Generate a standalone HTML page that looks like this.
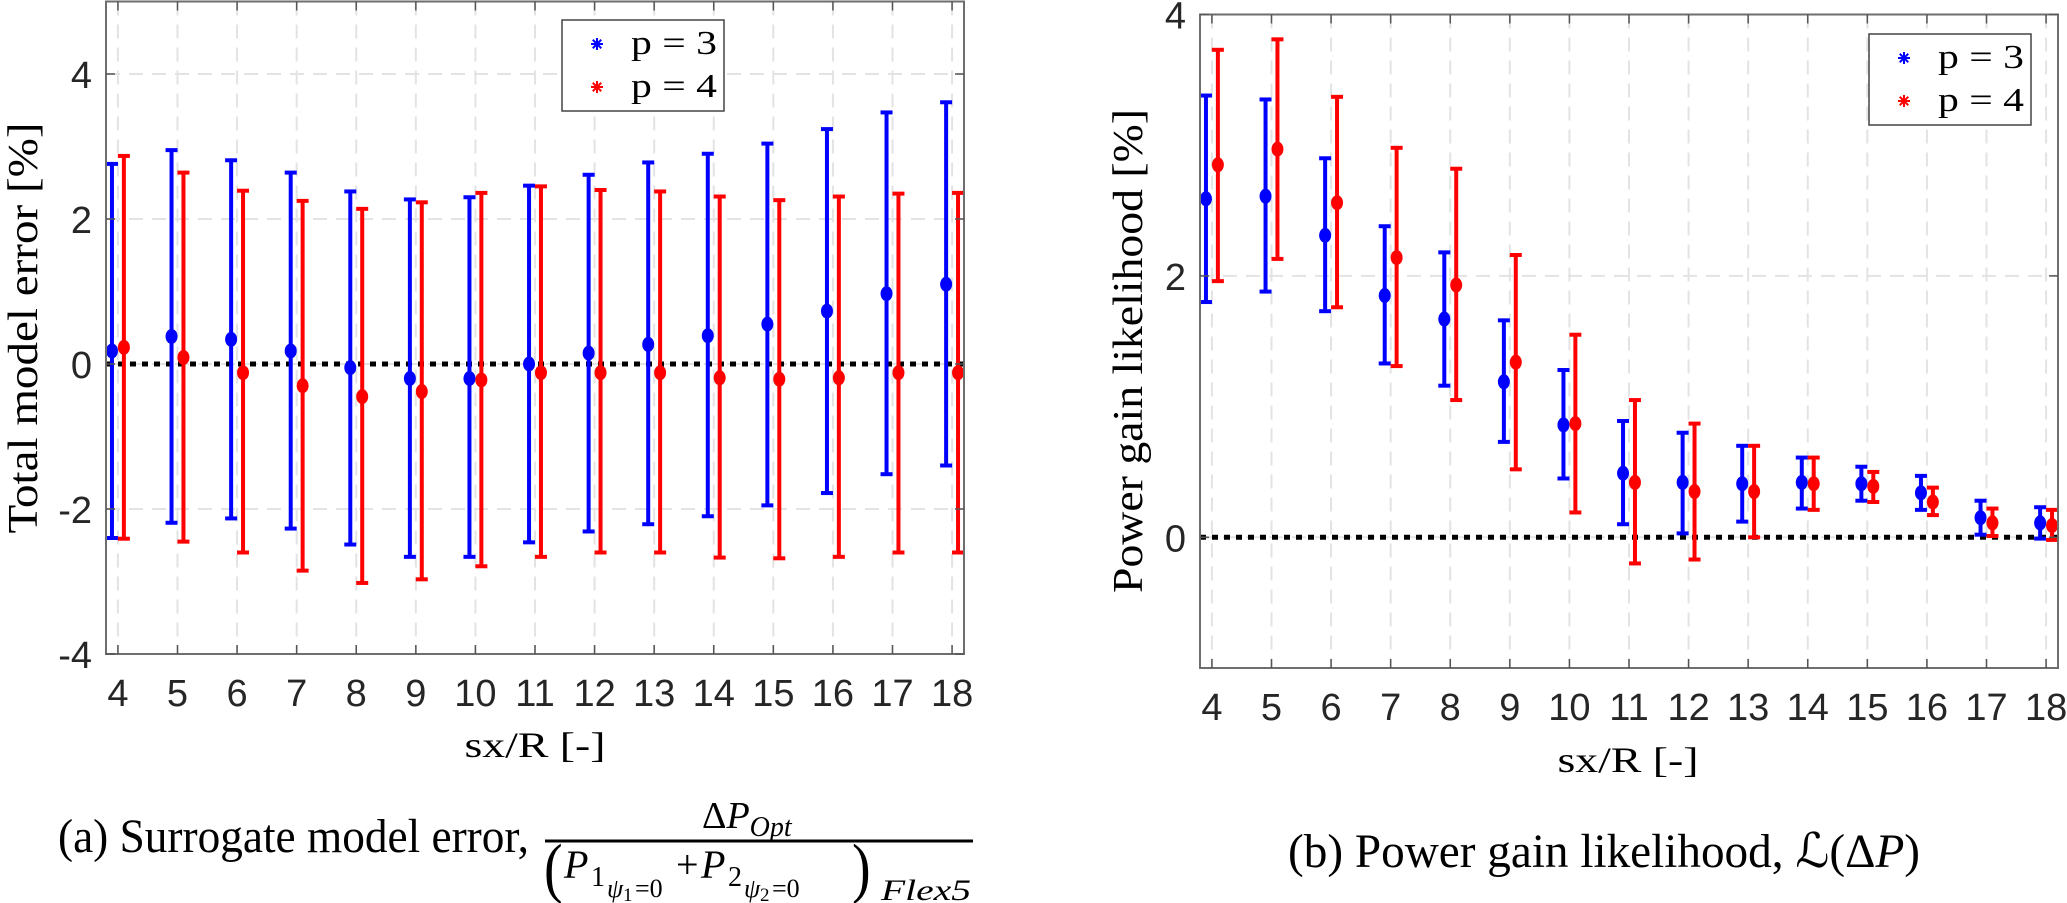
<!DOCTYPE html>
<html><head><meta charset="utf-8"><style>
html,body{margin:0;padding:0;background:#fff;}
svg{display:block;}
.tick{font-family:"Liberation Sans",sans-serif;font-size:38px;fill:#262626;}
.ser{font-family:"Liberation Serif",serif;fill:#000;}
</style></head><body>
<svg id="fig" width="2067" height="903" viewBox="0 0 2067 903" xmlns="http://www.w3.org/2000/svg">
<g id="chartA"></g>
<g id="chartB"></g>
<text class="ser" x="58" y="852" font-size="48" textLength="471" lengthAdjust="spacingAndGlyphs">(a) Surrogate model error,</text>
<g class="ser">
<text x="702" y="828" font-size="38">Δ<tspan font-style="italic">P</tspan><tspan font-style="italic" font-size="28" dy="8">Opt</tspan></text>
<line x1="545" y1="841" x2="973" y2="841" stroke="#000" stroke-width="3"/>
<text x="544" y="890" font-size="56" transform="translate(544 890) scale(1 1.2) translate(-544 -890)">(</text>
<text x="564" y="878" font-size="40" font-style="italic">P</text>
<text x="591" y="886" font-size="28">1</text>
<text x="607" y="897" font-size="26" font-style="italic">ψ</text>
<text x="623" y="901" font-size="19">1</text>
<text x="635" y="897" font-size="26">=0</text>
<text x="676" y="878" font-size="40">+</text>
<text x="701" y="878" font-size="40" font-style="italic">P</text>
<text x="728" y="886" font-size="28">2</text>
<text x="744" y="897" font-size="26" font-style="italic">ψ</text>
<text x="760" y="901" font-size="19">2</text>
<text x="772" y="897" font-size="26">=0</text>
<text x="852" y="890" font-size="56" transform="translate(852 890) scale(1 1.2) translate(-852 -890)">)</text>
<text x="881" y="900" font-size="30" font-style="italic" textLength="90" lengthAdjust="spacingAndGlyphs">Flex5</text>
</g>
<text class="ser" x="1288" y="867" font-size="48" textLength="632" lengthAdjust="spacingAndGlyphs">(b) Power gain likelihood, ℒ(Δ<tspan font-style="italic">P</tspan>)</text>
</svg>
<script>
const categories = [4,5,6,7,8,9,10,11,12,13,14,15,16,17,18];
// Chart A: total model error
const aBlueMean = [0.18,0.38,0.34,0.18,-0.05,-0.20,-0.20,0.0,0.15,0.27,0.39,0.55,0.73,0.97,1.10];
const aBlueHi   = [2.76,2.95,2.81,2.64,2.38,2.27,2.30,2.46,2.61,2.78,2.90,3.04,3.24,3.47,3.61];
const aBlueLo   = [-2.40,-2.19,-2.13,-2.27,-2.49,-2.66,-2.66,-2.46,-2.31,-2.21,-2.10,-1.95,-1.78,-1.52,-1.40];
const aRedMean  = [0.23,0.09,-0.12,-0.30,-0.45,-0.38,-0.22,-0.12,-0.12,-0.12,-0.19,-0.21,-0.19,-0.12,-0.12];
const aRedHi    = [2.87,2.64,2.39,2.25,2.14,2.23,2.36,2.45,2.40,2.38,2.31,2.26,2.31,2.35,2.36];
const aRedLo    = [-2.41,-2.45,-2.60,-2.85,-3.02,-2.97,-2.79,-2.66,-2.60,-2.60,-2.67,-2.68,-2.66,-2.60,-2.60];
const aYTicks = [-4,-2,0,2,4];
// Chart B: power gain likelihood
const bBlueMean = [2.59,2.61,2.31,1.85,1.67,1.19,0.86,0.49,0.42,0.41,0.42,0.41,0.34,0.15,0.11];
const bBlueHi   = [3.38,3.35,2.90,2.38,2.18,1.66,1.28,0.89,0.80,0.70,0.61,0.54,0.47,0.28,0.23];
const bBlueLo   = [1.80,1.88,1.73,1.33,1.16,0.73,0.45,0.10,0.03,0.12,0.22,0.28,0.21,0.02,-0.01];
const bRedMean  = [2.85,2.97,2.56,2.14,1.93,1.34,0.87,0.42,0.35,0.35,0.41,0.39,0.27,0.11,0.09];
const bRedHi    = [3.73,3.81,3.37,2.98,2.82,2.16,1.55,1.05,0.87,0.70,0.61,0.50,0.38,0.22,0.21];
const bRedLo    = [1.96,2.13,1.76,1.31,1.05,0.52,0.19,-0.20,-0.17,0.0,0.21,0.27,0.17,0.01,-0.02];
const bYTicks = [0,2,4];
const legendLabels = ["p = 3","p = 4"];

const NS="http://www.w3.org/2000/svg";
function mk(parent,tag,attrs,text){const e=document.createElementNS(NS,tag);for(const k in attrs)e.setAttribute(k,attrs[k]);if(text!==undefined)e.textContent=text;parent.appendChild(e);return e;}

function drawChart(g,cfg){
  const xs=v=>cfg.L+(v-3.8)/(14.4)*(cfg.R-cfg.L);
  const ys=v=>cfg.B-(v-cfg.ymin)/(cfg.ymax-cfg.ymin)*(cfg.B-cfg.T);
  categories.forEach(c=>{
    const l=mk(g,'line',{x1:xs(c),x2:xs(c),y1:cfg.T,y2:cfg.B,stroke:'#e3e3e3','stroke-width':2,'stroke-dasharray':'14 9'});
    
    
  });
  cfg.yticks.forEach(t=>{
    const l=mk(g,'line',{x1:cfg.L,x2:cfg.R,y1:ys(t),y2:ys(t),stroke:'#e3e3e3','stroke-width':2,'stroke-dasharray':'14 9'});
    
    
  });
  const z=mk(g,'line',{x1:cfg.L,x2:cfg.R,y1:ys(0),y2:ys(0),stroke:'#000','stroke-width':5,'stroke-dasharray':'6 6'});
  
  
  const series=[{m:cfg.bm,h:cfg.bh,l:cfg.bl,c:'#0000ff',off:-0.1,n:'p3'},{m:cfg.rm,h:cfg.rh,l:cfg.rl,c:'#ff0000',off:0.1,n:'p4'}];
  series.forEach(s=>{
    categories.forEach((c,i)=>{
      const x=xs(c+s.off);
      const eg=mk(g,'g',{});
      
      
      mk(eg,'line',{x1:x,x2:x,y1:ys(s.h[i]),y2:ys(s.l[i]),stroke:s.c,'stroke-width':4});
      mk(eg,'line',{x1:x-6,x2:x+6,y1:ys(s.h[i]),y2:ys(s.h[i]),stroke:s.c,'stroke-width':4});
      mk(eg,'line',{x1:x-6,x2:x+6,y1:ys(s.l[i]),y2:ys(s.l[i]),stroke:s.c,'stroke-width':4});
      const p=mk(eg,'ellipse',{cx:x,cy:ys(s.m[i]),rx:6,ry:7.5,fill:s.c});
      
      
    });
  });
  const box=mk(g,'rect',{x:cfg.L,y:cfg.T,width:cfg.R-cfg.L,height:cfg.B-cfg.T,fill:'none',stroke:'#6e6e6e','stroke-width':2});
  
  
  categories.forEach(c=>{
    mk(g,'line',{x1:xs(c),x2:xs(c),y1:cfg.B,y2:cfg.B-9,stroke:'#555','stroke-width':1.5});
    mk(g,'line',{x1:xs(c),x2:xs(c),y1:cfg.T,y2:cfg.T+9,stroke:'#555','stroke-width':1.5});
    const t=mk(g,'text',{x:xs(c),y:cfg.B+52,'text-anchor':'middle',class:'tick'},String(c));
    
    
  });
  cfg.yticks.forEach(v=>{
    mk(g,'line',{x1:cfg.L,x2:cfg.L+9,y1:ys(v),y2:ys(v),stroke:'#555','stroke-width':1.5});
    mk(g,'line',{x1:cfg.R,x2:cfg.R-9,y1:ys(v),y2:ys(v),stroke:'#555','stroke-width':1.5});
    const t=mk(g,'text',{x:cfg.L-14,y:ys(v)+14,'text-anchor':'end',class:'tick'},String(v));
    
    
  });
  const xl=mk(g,'text',{x:cfg.xlx,y:cfg.xly,'text-anchor':'middle',class:'ser','font-size':36,fill:'#262626',textLength:141,lengthAdjust:'spacingAndGlyphs'},'sx/R [-]');
  
  
  const yl=mk(g,'text',{x:0,y:0,'text-anchor':'middle',class:'ser','font-size':42,fill:'#262626',textLength:cfg.ylen,lengthAdjust:'spacingAndGlyphs',transform:`translate(${cfg.ylx},${cfg.yly}) rotate(-90)`},cfg.ytitle);
  
  
  const lg=mk(g,'g',{});
  
  
  mk(lg,'rect',{x:cfg.lgx,y:cfg.lgy,width:162,height:91,fill:'#fff',stroke:'#444','stroke-width':1.5});
  ['#0000ff','#ff0000'].forEach((c,i)=>{
    const e=mk(lg,'g',{});
    
    
    const mx=cfg.lgx+35,my=cfg.lgy+24+i*43;
    for(let a=0;a<4;a++){const an=a*Math.PI/4;mk(e,'line',{x1:mx-6*Math.cos(an),y1:my-6*Math.sin(an),x2:mx+6*Math.cos(an),y2:my+6*Math.sin(an),stroke:c,'stroke-width':2});}
    mk(e,'text',{x:cfg.lgx+69,y:my+10,class:'ser','font-size':34,textLength:86,lengthAdjust:'spacingAndGlyphs'},legendLabels[i]);
  });
}
drawChart(document.getElementById('chartA'),{L:106,R:964,T:1.5,B:654,ymin:-4,ymax:5,yticks:aYTicks,
  bm:aBlueMean,bh:aBlueHi,bl:aBlueLo,rm:aRedMean,rh:aRedHi,rl:aRedLo,
  xlx:535,xly:757,ylx:37,yly:328,ylen:411,ytitle:'Total model error [%]',lgx:562,lgy:20});
drawChart(document.getElementById('chartB'),{L:1200,R:2058,T:14.5,B:668,ymin:-1,ymax:4,yticks:bYTicks,
  bm:bBlueMean,bh:bBlueHi,bl:bBlueLo,rm:bRedMean,rh:bRedHi,rl:bRedLo,
  xlx:1628,xly:772,ylx:1142,yly:351,ylen:484,ytitle:'Power gain likelihood [%]',lgx:1869,lgy:34});
</script>
</body></html>
